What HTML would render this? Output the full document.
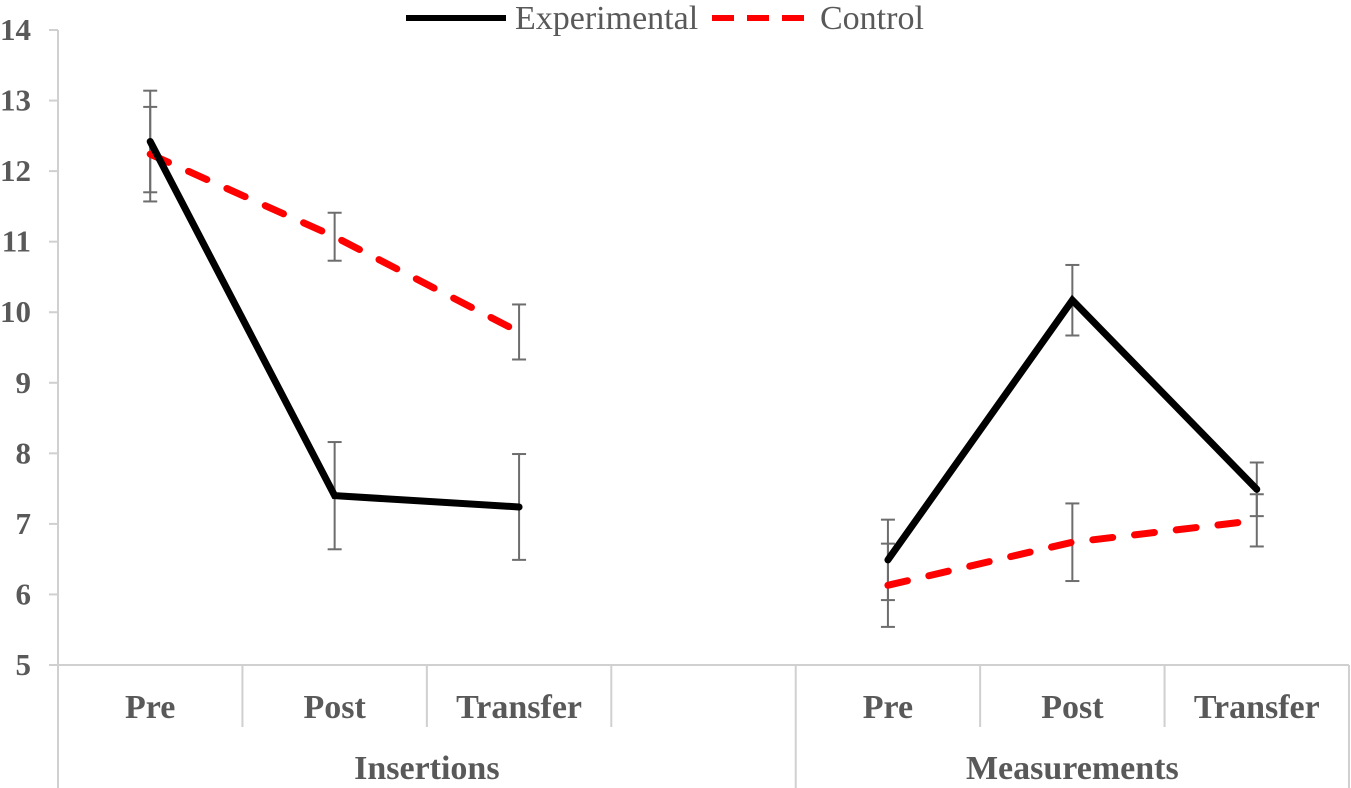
<!DOCTYPE html>
<html><head><meta charset="utf-8"><style>
html,body{margin:0;padding:0;background:#fff;}
svg{display:block;font-family:"Liberation Serif",serif;}
</style></head><body>
<svg id="chart" width="1351" height="788" viewBox="0 0 1351 788">
<g id="axes"></g>
<g id="marks"></g>
<g>
  <line x1="406" y1="18" x2="506" y2="18" stroke="#000" stroke-width="6"/>
  <text x="515" y="29" font-size="34" fill="#595959">Experimental</text>
  <line x1="712" y1="18" x2="806" y2="18" stroke="#f00" stroke-width="6" stroke-dasharray="22,13"/>
  <text x="820" y="29" font-size="34" fill="#595959">Control</text>
</g>
</svg>
<script>
const categories = ["Pre","Post","Transfer","","Pre","Post","Transfer"];
const groups = ["Insertions","Measurements"];
const yTicks = [5,6,7,8,9,10,11,12,13,14];
const expValues = [12.42,7.40,7.24,null,6.49,10.17,7.49];
const expErr = [0.72,0.76,0.75,null,0.57,0.50,0.38];
const ctrlValues = [12.24,11.07,9.72,null,6.13,6.74,7.05];
const ctrlErr = [0.67,0.34,0.39,null,0.59,0.55,0.37];

const NS="http://www.w3.org/2000/svg";
const x0=58, x1=1349, yTop=30, yBot=665, yMin=5, yMax=14;
const slotW=(x1-x0)/categories.length;
function xs(i){return x0+slotW*(i+0.5);}
function ys(v){return yBot-(v-yMin)/(yMax-yMin)*(yBot-yTop);}
function mk(tag,attrs,parent){const e=document.createElementNS(NS,tag);for(const k in attrs)e.setAttribute(k,attrs[k]);parent.appendChild(e);return e;}
const axes=document.getElementById('axes'), marks=document.getElementById('marks');
const gray="#d0d0d0";
let e=mk('line',{x1:x0,y1:yTop,x2:x0,y2:yBot,stroke:gray,'stroke-width':2},axes);


yTicks.forEach(t=>{
  let l=mk('line',{x1:x0-9,y1:ys(t),x2:x0,y2:ys(t),stroke:gray,'stroke-width':2},axes);
  
  
  let tx=mk('text',{x:x0-27,y:ys(t)+10,'text-anchor':'end','font-size':31,'font-weight':'bold',fill:'#595959'},axes);
  tx.textContent=t;
  
  
});
e=mk('line',{x1:x0,y1:yBot,x2:x1,y2:yBot,stroke:gray,'stroke-width':2},axes);


for(let i=0;i<=categories.length;i++){
  const x=x0+slotW*i;
  const long=(i===0||i===categories.length||i===4);
  let l=mk('line',{x1:x,y1:yBot,x2:x,y2:long?788:727,stroke:gray,'stroke-width':2},axes);
  
  
}
categories.forEach((c,i)=>{
  if(!c)return;
  let tx=mk('text',{x:xs(i),y:718,'text-anchor':'middle','font-size':34,'font-weight':'bold',fill:'#595959'},axes);
  tx.textContent=c;
  
  
});
groups.forEach((g,gi)=>{
  const cx=x0+slotW*4*gi+slotW*(gi===0?2:1.5);
  let tx=mk('text',{x:cx,y:779,'text-anchor':'middle','font-size':34,'font-weight':'bold',fill:'#595959'},axes);
  tx.textContent=g;
  
  
});
function errBars(vals,errs,name){
  vals.forEach((v,i)=>{
    if(v==null)return;
    const x=xs(i),t=ys(v+errs[i]),b=ys(v-errs[i]);
    const g=mk('g',{stroke:'#6d6d6d','stroke-width':2},marks);
    
    
    mk('line',{x1:x,y1:t,x2:x,y2:b},g);
    mk('line',{x1:x-7,y1:t,x2:x+7,y2:t},g);
    mk('line',{x1:x-7,y1:b,x2:x+7,y2:b},g);
  });
}
errBars(expValues,expErr,'experimental');
errBars(ctrlValues,ctrlErr,'control');
function series(vals,color,dash,name){
  [[0,1,2],[4,5,6]].forEach((idx,gi)=>{
    const pts=idx.map(i=>xs(i)+','+ys(vals[i])).join(' ');
    const p=mk('polyline',{points:pts,fill:'none',stroke:color,'stroke-width':7,'stroke-linecap':'round','stroke-linejoin':'miter'},marks);
    if(dash)p.setAttribute('stroke-dasharray',dash);
    
    
  });
}
series(ctrlValues,'#f00','20,22','control');
series(expValues,'#000',null,'experimental');
</script>
</body></html>
